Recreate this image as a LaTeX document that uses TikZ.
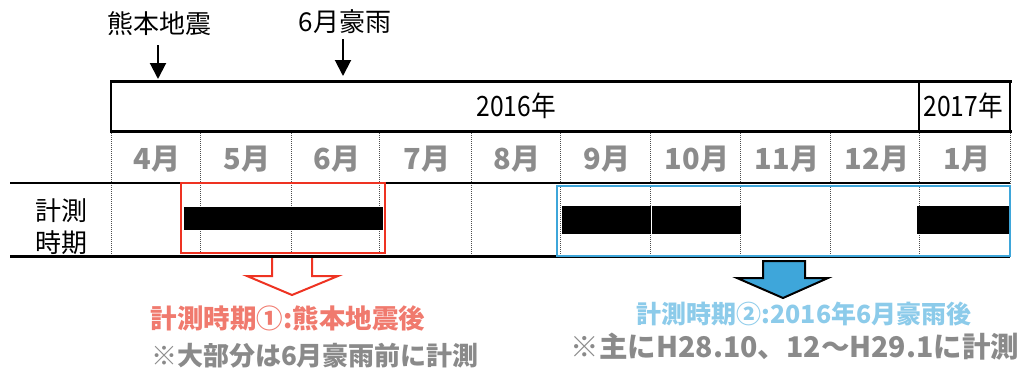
\documentclass[tikz,border=0pt]{standalone}
\usepackage{fontspec}
\setmainfont{Noto Sans CJK JP}
\usetikzlibrary{arrows.meta}
\definecolor{mgray}{HTML}{8C8C8C}
\definecolor{lred}{HTML}{F07A6E}
\definecolor{bred}{HTML}{EE3322}
\definecolor{lblue}{HTML}{8CCBEA}
\definecolor{bblue}{HTML}{3EA6DA}
\definecolor{txtgray}{HTML}{8A8A8A}
\tikzset{
  lbl/.style={font=\fontsize{26}{26}\selectfont, inner sep=0pt},
  yr/.style={font=\fontsize{28}{28}\selectfont, inner sep=0pt, xscale=0.88},
  mon/.style={font=\bfseries\fontsize{29}{29}\selectfont, text=mgray, inner sep=0pt},
  thick line/.style={line width=3pt},
  sep/.style={densely dotted, line width=1pt, black!70},
  bar/.style={fill=black, draw=none},
  pointer/.style={line width=2pt, -{Triangle[width=16pt,length=16pt]}},
}
\begin{document}
\begin{tikzpicture}[x=1pt,y=-1pt]
\useasboundingbox (0,0) rectangle (1020,373);
% top event labels and arrows
\node[lbl] (eq) at (159,24) {熊本地震};
\node[lbl] (rain) at (345,22) {6月豪雨};
\coordinate (eqs) at (158,45);
\coordinate (eqt) at (158,79);
\coordinate (rains) at (343,39);
\coordinate (raint) at (343,76);
\draw[pointer] (eqs) -- (eqt);
\draw[pointer] (rains) -- (raint);
% table grid
\draw[thick line] (110,81) -- (1012,81);
\draw[thick line] (110,131) -- (1012,131);
\draw[line width=1.2pt] (111,81) -- (111,131);
\draw[line width=1.2pt] (919,81) -- (919,131);
\draw[line width=1.2pt] (1010,81) -- (1010,131);
\foreach \x in {111,200,291,379,471,560,650,740,830,919,1010}
  \draw[sep] (\x,133) -- (\x,255);
\draw[line width=2pt] (10,183) -- (1010,183);
\draw[thick line] (10,256) -- (1010,256);
% year labels
\node[yr] (y2016) at (516,106) {2016年};
\node[yr] (y2017) at (963,106) {2017年};
% month labels
\foreach \m [count=\i] in {4,5,6,7,8,9,10,11,12,1}{
  \pgfmathsetmacro{\cx}{111+90*(\i-1)+46}
  \node[mon] (m\i) at (\cx,159) {\m 月};
}
% row labels
\node[lbl] (r1) at (61,211) {計測};
\node[lbl] (r2) at (61,243) {時期};
% measurement bars
\fill[bar] (184,207) rectangle (383,230);
\fill[bar] (562,206) rectangle (741,234);
\draw[white, line width=1pt] (651,206) -- (651,234);
\fill[bar] (917,206) rectangle (1009,234);
% highlight boxes
\draw[bred, line width=2pt] (181,183) rectangle (385,253);
\draw[bblue, line width=2pt] (557,186) rectangle (1010,256);
% red hollow arrow
\draw[bred, line width=2pt, fill=white] (272,258) -- (272,276) -- (247,276) -- (292,295) -- (338,276) -- (312,276) -- (312,258);
% blue filled arrow
\draw[black, line width=2pt, fill=bblue] (763,261) -- (763,278) -- (737,278) -- (783,298) -- (828,278) -- (805,278) -- (805,261) -- cycle;
% bottom texts
\node[font=\bfseries\fontsize{26.5}{26.5}\selectfont, text=lred, inner sep=0pt] (t1) at (288,318) {計測時期①:熊本地震後};
\node[font=\bfseries\fontsize{26}{26}\selectfont, text=txtgray, inner sep=0pt] (t2) at (315,356) {※大部分は6月豪雨前に計測};
\node[font=\bfseries\fontsize{25}{25}\selectfont, text=lblue, inner sep=0pt] (t3) at (804,314) {計測時期②:2016年6月豪雨後};
\node[font=\bfseries\fontsize{28.5}{28.5}\selectfont, text=txtgray, inner sep=0pt] (t4) at (795,347) {※主にH28.10、12～H29.1に計測};
\end{tikzpicture}
\end{document}
